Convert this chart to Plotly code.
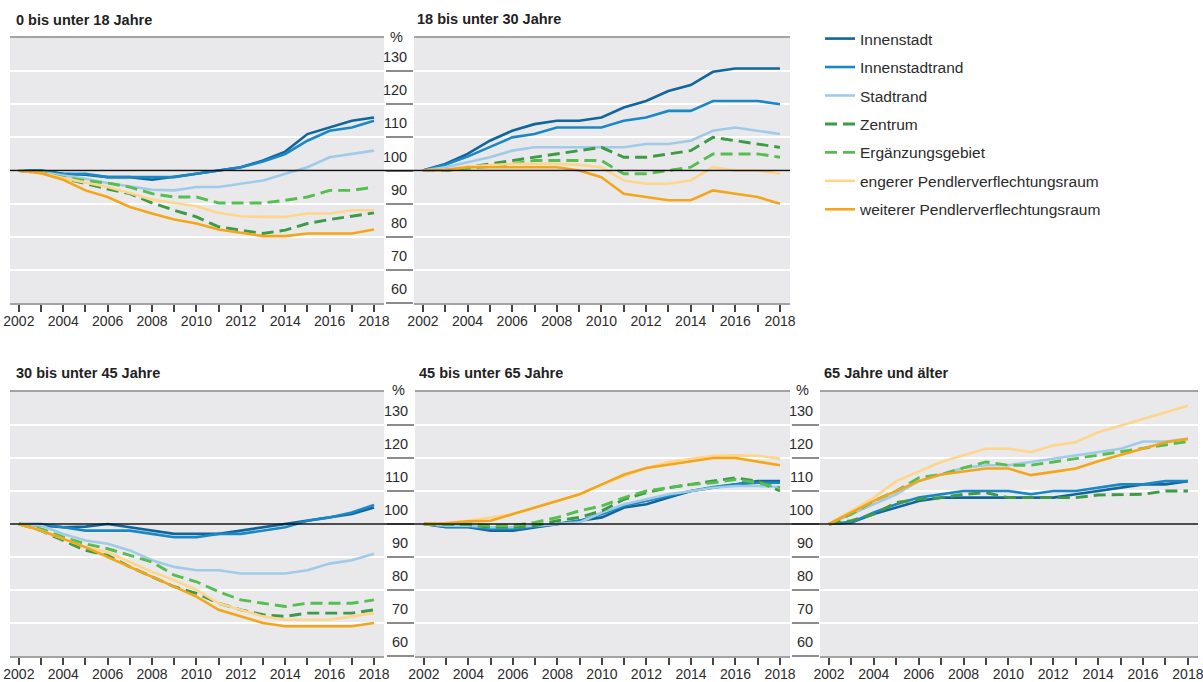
import plotly.graph_objects as go

W, H = 1203, 682

years = list(range(2002, 2019))
year_labels = [str(y) if y % 2 == 0 else "" for y in years]
y_ticks = [60, 70, 80, 90, 100, 110, 120, 130]
y_tick_labels = [str(v) for v in y_ticks]

regions = ["Innenstadt", "Innenstadtrand", "Stadtrand", "Zentrum",
           "Ergänzungsgebiet", "engerer Pendlerverflechtungsraum",
           "weiterer Pendlerverflechtungsraum"]
colors = ["#12659a", "#1a88c4", "#a0cbe8", "#3d9a46", "#56bd50", "#fed58c", "#f4a61a"]
dashes = ["solid", "solid", "solid", "12px,6px", "12px,6px", "solid", "solid"]
widths = [2.6, 2.6, 2.6, 2.9, 2.9, 2.6, 2.6]

titles = ["0 bis unter 18 Jahre", "18 bis unter 30 Jahre", "30 bis unter 45 Jahre",
          "45 bis unter 65 Jahre", "65 Jahre und älter"]

# index values (2002 = 100)
data_0_18 = {
    "Innenstadt": [100, 100, 99, 98.7, 98, 98, 97.2, 98, 99, 100, 101, 103, 105.7, 111, 113, 115, 116],
    "Innenstadtrand": [100, 100, 98.9, 99, 98, 98, 98, 98, 99, 100, 101, 102.7, 105, 109, 112, 113, 115],
    "Stadtrand": [100, 99.5, 98.5, 97.5, 96.2, 95.2, 94.2, 94, 95, 95, 96, 97, 99, 101, 104, 105, 106],
    "Zentrum": [100, 99.3, 97.7, 96, 94.4, 93, 90.2, 88, 86, 83, 82, 81, 82, 84, 85.2, 86.1, 87.2],
    "Ergänzungsgebiet": [100, 99.3, 97.9, 96.9, 96.2, 95, 93, 92, 92, 90.2, 90.2, 90.2, 91, 92, 94, 94, 95],
    "engerer Pendlerverflechtungsraum": [100, 99.2, 97.7, 96.4, 95, 93.2, 91.2, 90.2, 89.2, 87.2, 86.2, 86, 86, 87, 87, 88, 88],
    "weiterer Pendlerverflechtungsraum": [100, 99.2, 97.2, 94, 92, 89, 87, 85.2, 84, 82.2, 81.2, 80.2, 80.2, 81, 81, 81, 82.2],
}
data_18_30 = {
    "Innenstadt": [100, 102, 105, 109, 112, 114, 115, 115, 116, 119, 121, 124, 125.8, 129.8, 130.8, 130.8, 130.8],
    "Innenstadtrand": [100, 101.7, 104.2, 107.2, 110, 111, 113, 113, 113, 115, 116, 118, 118, 121, 121, 121, 120],
    "Stadtrand": [100, 101, 102.5, 104, 106, 107, 107, 107, 107, 107, 108, 108, 109, 112, 113, 112, 111],
    "Zentrum": [100, 100, 101, 102, 103, 104, 105, 106, 107, 104, 104, 105, 106, 110, 109, 108, 107],
    "Ergänzungsgebiet": [100, 100, 100.7, 101.2, 102, 103, 103, 103, 103, 99, 99, 100, 101, 105, 105, 105, 104],
    "engerer Pendlerverflechtungsraum": [100, 100.2, 101.2, 101.7, 102, 102, 102, 101.7, 101, 97, 96, 96, 97, 101, 100, 100, 99],
    "weiterer Pendlerverflechtungsraum": [100, 100.2, 101, 101, 101, 101, 101, 100, 98, 93, 92, 91, 91, 94, 93, 92, 90],
}
data_30_45 = {
    "Innenstadt": [100, 99.5, 99, 99.2, 100, 99, 98, 97, 97, 97, 98, 99, 100, 101, 102, 103, 105],
    "Innenstadtrand": [100, 100, 99, 98, 98, 98, 97, 96, 96, 97, 97, 98, 99, 101, 102, 103.5, 105.8],
    "Stadtrand": [100, 99.5, 97, 95, 94, 92, 89, 87, 86, 86, 85, 85, 85, 86, 88, 89, 91],
    "Zentrum": [100, 98, 95, 92, 90.5, 87, 84, 81, 79, 76, 74, 72.5, 72, 73, 73, 73, 74],
    "Ergänzungsgebiet": [100, 98.5, 96, 94, 92.5, 90.5, 88.5, 84.5, 82.5, 79.5, 77, 76, 75, 76, 76, 76, 77],
    "engerer Pendlerverflechtungsraum": [100, 98, 95.5, 93, 91.5, 88.5, 85.5, 83, 80, 76, 74, 72, 71, 71, 71, 72, 73],
    "weiterer Pendlerverflechtungsraum": [100, 98, 95.5, 93, 90, 87, 84, 81, 78, 74, 72, 70, 69, 69, 69, 69, 70],
}
data_45_65 = {
    "Innenstadt": [100, 99, 99, 98, 98, 99, 100, 100.8, 102, 105, 106, 108, 110, 111, 112, 113, 113],
    "Innenstadtrand": [100, 99.2, 99.2, 98.5, 98.5, 99.2, 100, 101, 103, 105.5, 107, 108.5, 110, 111.2, 112, 112.5, 112.5],
    "Stadtrand": [100, 99.5, 99.5, 99, 99, 99.5, 100, 100.5, 103.5, 106, 107.5, 109, 110, 111, 111.5, 111.5, 111.2],
    "Zentrum": [100, 100, 99.8, 99, 99, 99.5, 101, 102, 104, 107.5, 109.5, 111, 112, 113, 114, 113, 110],
    "Ergänzungsgebiet": [100, 100, 100, 99.5, 99.5, 100.5, 102, 104, 105.5, 108, 110, 111, 112, 112.5, 113.5, 112.5, 111],
    "engerer Pendlerverflechtungsraum": [100, 100.2, 101, 102, 103, 105, 107, 109, 112, 114.5, 117, 118.8, 119.8, 120.7, 120.8, 120.7, 119.8],
    "weiterer Pendlerverflechtungsraum": [100, 100.2, 100.8, 101, 103, 105, 107, 109, 112, 115, 117, 118, 119, 120, 120, 119, 117.8],
}
data_65 = {
    "Innenstadt": [100, 100.5, 103, 105, 107, 108, 108, 108, 108, 108, 108, 109, 110, 111, 112, 112, 113],
    "Innenstadtrand": [100, 100.5, 103.5, 106, 108, 109, 110, 110, 110, 109, 110, 110, 111, 112, 112, 113, 113],
    "Stadtrand": [100, 103, 106, 109, 113, 115, 117, 117.8, 117.8, 118.8, 119.8, 120.8, 121.8, 122.8, 125, 125, 125.8],
    "Zentrum": [100, 101, 103, 106.5, 107.5, 108, 109, 109.5, 108, 108, 108, 108, 108.8, 109, 109, 110, 110],
    "Ergänzungsgebiet": [100, 103, 107, 110, 114, 115, 117, 118.8, 117.8, 117.8, 118.8, 119.8, 120.8, 121.8, 123, 124, 125],
    "engerer Pendlerverflechtungsraum": [100, 104, 108, 113, 116, 118.8, 120.8, 122.8, 122.8, 121.8, 123.8, 124.8, 127.8, 129.8, 131.8, 133.8, 135.8],
    "weiterer Pendlerverflechtungsraum": [100, 103.5, 107, 110, 113, 115, 116, 116.8, 116.8, 114.8, 115.8, 116.8, 119, 121, 123, 124.8, 125.8],
}
panels = [data_0_18, data_18_30, data_30_45, data_45_65, data_65]

FONT = "Liberation Sans, Arial, sans-serif"
TXT = "#2b2b2b"

# panel frames in pixels (left, right, top, bottom)
frames = [(10, 384, 38, 303), (414, 790, 38, 303),
          (10, 384, 392, 656), (415, 790, 392, 656), (820, 1198, 392, 656)]
labelled = [False, True, False, True, True]

fig = go.Figure()
for p, data in enumerate(panels):
    ax = "" if p == 0 else str(p + 1)
    for i, reg in enumerate(regions):
        fig.add_trace(go.Scatter(
            x=years, y=data[reg], name=reg, mode="lines",
            line=dict(color=colors[i], width=widths[i], dash=dashes[i]),
            xaxis="x" + ax, yaxis="y" + ax,
            legendgroup=reg, legendrank=i + 1, showlegend=(p == 0),
            hovertemplate="%{x}: %{y}<extra>" + reg + "</extra>",
        ))

layout = dict(
    width=W, height=H, margin=dict(l=0, r=0, t=0, b=0, autoexpand=False),
    paper_bgcolor="white", plot_bgcolor="#e9e9eb",
    font=dict(family=FONT, color=TXT, size=14),
    legend=dict(x=820 / W, y=1 - 22 / H, xanchor="left", yanchor="top",
                font=dict(size=15.5, color=TXT, family=FONT),
                tracegroupgap=5.3, itemwidth=30, bgcolor="rgba(0,0,0,0)"),
    showlegend=True,
)
for p, (l, r, t, b) in enumerate(frames):
    ax = "" if p == 0 else str(p + 1)
    layout["xaxis" + ax] = dict(
        domain=[l / W, r / W], anchor="y" + ax, range=[2001.6, 2018.45],
        tickvals=years, ticktext=year_labels, ticks="outside", ticklen=7,
        tickwidth=1.5, tickcolor="#444", showline=True, linewidth=2,
        linecolor="#a3a3a3", mirror=True, showgrid=False, zeroline=False,
        tickfont=dict(size=14, color=TXT), fixedrange=True, automargin=False,
        ticklabelstandoff=-3, ticklabeloverflow="allow",
    )
    yax = dict(
        domain=[1 - b / H, 1 - t / H], anchor="x" + ax, range=[60, 140],
        tickvals=y_ticks, ticktext=y_tick_labels, showgrid=True,
        gridcolor="white", gridwidth=2, zeroline=False, fixedrange=True,
        automargin=False,
    )
    if labelled[p]:
        yax.update(ticks="outside", ticklen=27, tickwidth=2, tickcolor="#8c8c8c",
                   showticklabels=True, ticklabelshift=-14, ticklabelstandoff=-24,
                   tickfont=dict(size=14.5, color=TXT))
    else:
        yax.update(ticks="", showticklabels=False)
    layout["yaxis" + ax] = yax

fig.update_layout(**layout)

# 100 reference line across each row
fig.add_shape(type="line", xref="paper", yref="y", x0=10 / W, x1=790 / W, y0=100, y1=100,
              line=dict(color="#111", width=1.6), layer="above")
fig.add_shape(type="line", xref="paper", yref="y3", x0=10 / W, x1=1198 / W, y0=100, y1=100,
              line=dict(color="#111", width=1.6), layer="above")

# panel titles
title_pos = [(14, 20), (415, 19), (14, 373), (417, 373), (822, 373)]
for (tx, ty), ttl in zip(title_pos, titles):
    fig.add_annotation(text="<b>" + ttl + "</b>", x=tx / W, y=1 - ty / H, xref="paper", yref="paper",
                       xanchor="left", yanchor="middle", showarrow=False,
                       font=dict(size=14.5, color="#222", family=FONT))

# percent signs above the value columns
for px_, py_ in [(405, 37), (407, 390), (811, 390)]:
    fig.add_annotation(text="%", x=px_ / W, y=1 - py_ / H, xref="paper", yref="paper",
                       xanchor="right", yanchor="middle", showarrow=False,
                       font=dict(size=14.5, color=TXT, family=FONT))

fig.write_html("out.html", config={"displayModeBar": False},
               post_script="document.body.style.margin='0';document.body.style.overflow='hidden';")
